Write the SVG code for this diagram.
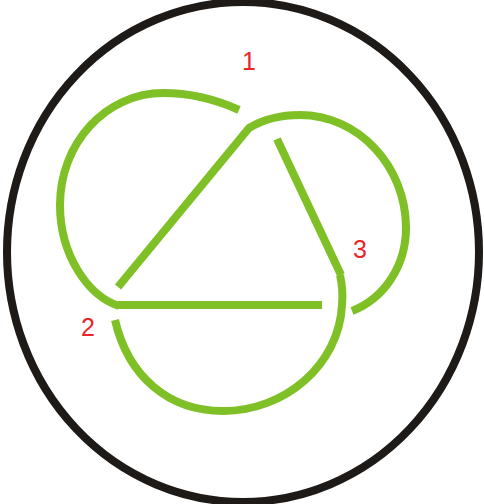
<svg xmlns="http://www.w3.org/2000/svg" width="484" height="504" viewBox="0 0 484 504">
<style>.k{fill:none;stroke:#80c027;stroke-width:8}.t{font-family:"Liberation Sans",Arial,sans-serif;font-size:25px;fill:#e8262a}</style>
<rect width="484" height="504" fill="#fff"/>
<ellipse id="circle" cx="243" cy="252" rx="236" ry="250" fill="none" stroke="#1d1a17" stroke-width="8"/>
<g id="connectors">
<path class="k" d="M239 110C215 99 190 93 163 93C106 93 60 143 60 205C60 255 88 296 119 306M118 305H322"/>
<path class="k" d="M118 287L249 128C264 119 282 115 300 115C358 115 406 166 406 228C406 265 385 298 352 311"/>
<path class="k" d="M277 139L341 275M340 275C342 284 343 295 342 305C339 365 285 411 223 411C168 411 128 376 115 320"/>
</g>
<g id="n1"><text class="t" x="242" y="70">1</text></g>
<g id="n2"><text class="t" x="81" y="336">2</text></g>
<g id="n3"><text class="t" x="353" y="258">3</text></g>
</svg>
